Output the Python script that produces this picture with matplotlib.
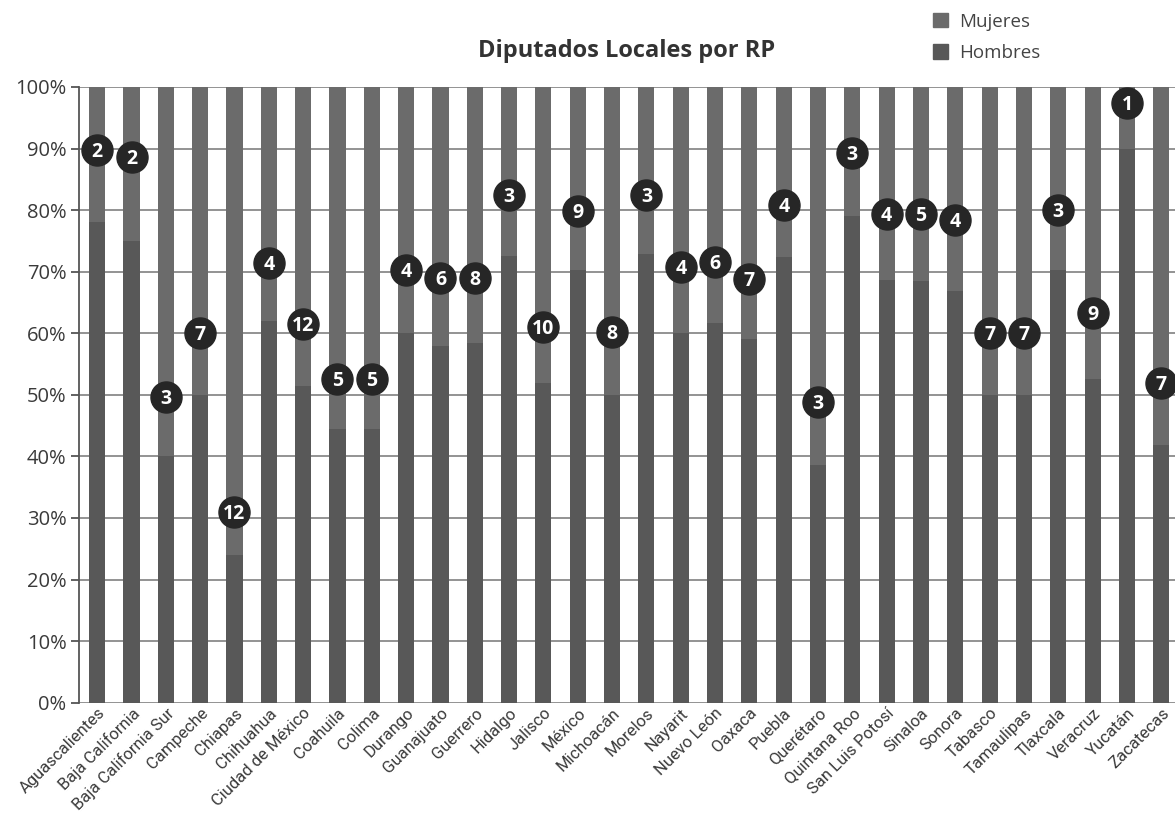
import matplotlib
matplotlib.use("Agg")
import matplotlib.pyplot as plt
from matplotlib.patches import Patch
from matplotlib import font_manager as fm

# ==================================================
estados = ["Aguascalientes", "Baja California", "Baja California Sur", "Campeche",
           "Chiapas", "Chihuahua", "Ciudad de México", "Coahuila", "Colima",
           "Durango", "Guanajuato", "Guerrero", "Hidalgo", "Jalisco", "México",
           "Michoacán", "Morelos", "Nayarit", "Nuevo León", "Oaxaca", "Puebla",
           "Querétaro", "Quintana Roo", "San Luis Potosí", "Sinaloa", "Sonora",
           "Tabasco", "Tamaulipas", "Tlaxcala", "Veracruz", "Yucatán", "Zacatecas"]
# % de hombres entre los diputados de RP
hombres = [78, 75, 40, 50, 24, 62, 51.5, 44.4, 44.4, 60, 58, 58.5, 72.5, 52, 70.3,
           50, 72.8, 60, 61.6, 59, 72.4, 38.6, 79, 68.6, 68.5, 66.8, 50, 50, 70.3,
           52.5, 90, 41.8]
# número de mujeres y altura del marcador
mujeres_n = [2, 2, 3, 7, 12, 4, 12, 5, 5, 4, 6, 8, 3, 10, 9, 8, 3, 4, 6, 7, 4, 3,
             3, 4, 5, 4, 7, 7, 3, 9, 1, 7]
marca_y = [89.7, 88.6, 49.7, 60.1, 31.0, 71.4, 61.5, 52.5, 52.5, 70.2, 68.9, 68.9,
           82.4, 61.0, 79.8, 60.2, 82.4, 70.7, 71.5, 68.8, 80.8, 48.8, 89.2, 79.3,
           79.3, 78.4, 60.0, 60.0, 80.0, 63.3, 97.4, 51.9]
yticks = list(range(0, 101, 10))
# =============================================================

C_MUJ, C_HOM, C_CIR = "#6b6b6b", "#585858", "#262626"
GRID, TXT = "#8a8a8a", "#3a3a3a"

avail = {f.name for f in fm.fontManager.ttflist}
BASE = "Open Sans" if "Open Sans" in avail else "DejaVu Sans"
NARROW = "Roboto" if "Roboto" in avail else BASE
plt.rcParams["font.family"] = [BASE, "DejaVu Sans"]

fig = plt.figure(figsize=(11.75, 8.14), dpi=100)
ax = fig.add_axes([79 / 1175, 1 - 702.7 / 814, 1 - 79 / 1175, (702.7 - 87) / 814])

x = list(range(len(estados)))
muj = [100 - h for h in hombres]
ax.bar(x, hombres, width=0.47, color=C_HOM, zorder=2)
ax.bar(x, muj, bottom=hombres, width=0.47, color=C_MUJ, zorder=2)

ax.scatter(x, marca_y, s=31 ** 2 * 0.52, color=C_CIR, zorder=4, clip_on=False)
for xi, yi, n in zip(x, marca_y, mujeres_n):
    ax.text(xi, yi - 0.3, str(n), ha="center", va="center", color="white",
            fontsize=14, fontweight="bold", zorder=5)

ax.set_xlim(-0.53, len(estados) - 0.6)
ax.set_ylim(0, 100)
ax.set_yticks(yticks)
ax.set_yticklabels([f"{t}%" for t in yticks], fontsize=14.5, color=TXT)
ax.yaxis.grid(True, color=GRID, lw=1.3, zorder=1)
ax.set_axisbelow(True)
for s in ["top", "right", "bottom"]:
    ax.spines[s].set_visible(False)
ax.spines["left"].set_color("#555555")
ax.spines["left"].set_linewidth(1.3)
ax.tick_params(axis="y", length=6, color="#555555", width=1.3, pad=3)
ax.tick_params(axis="x", length=0, pad=2)
ax.set_xticks(x)
ax.set_xticklabels(estados, rotation=45, ha="right", rotation_mode="anchor",
                   fontsize=12, color=TXT, family=NARROW)

fig.text(627 / 1175, 1 - 51 / 814, "Diputados Locales por RP", ha="center",
         va="center", fontsize=17, fontweight="bold", color="#333333")

fig.legend(handles=[Patch(color=C_MUJ, label="Mujeres"), Patch(color=C_HOM, label="Hombres")],
           loc="upper left", bbox_to_anchor=(916 / 1175, 1.005), frameon=False,
           fontsize=13.5, handlelength=0.8, handleheight=0.8, handletextpad=0.6,
           labelspacing=0.7, labelcolor="#444444")

fig.savefig("out.png", dpi=100)
